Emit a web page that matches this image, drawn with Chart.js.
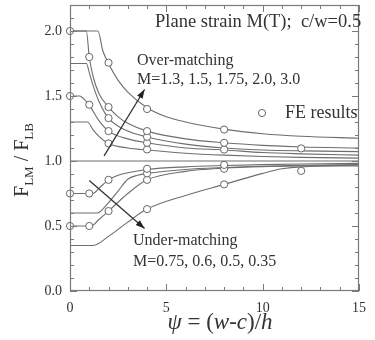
<!DOCTYPE html>
<html><head><meta charset="utf-8">
<script src="https://cdn.jsdelivr.net/npm/chart.js@4.4.1/dist/chart.umd.min.js"></script>
<style>html,body{margin:0;padding:0;background:#fff}#wrap{width:375px;height:340px;position:relative}</style>
</head><body><div id="wrap"><canvas id="c"></canvas></div>
<script>
// axis ticks
const xTicks = [0, 5, 10, 15];
const yTicks = [0.0, 0.5, 1.0, 1.5, 2.0];

// over-matching analytical curves (psi, F_LM/F_LB)
const psiM30 = [0, 1.45, 1.7, 2, 2.5, 3, 4, 5, 6, 8, 10, 12, 15];
const fM30   = [2.0, 2.0, 1.85, 1.75, 1.62, 1.53, 1.41, 1.34, 1.30, 1.245, 1.21, 1.19, 1.175];
const psiM20 = [0, 0.85, 1.0, 1.2, 1.5, 2, 2.5, 3, 4, 6, 8, 10, 12, 15];
const fM20   = [2.0, 2.0, 1.80, 1.65, 1.52, 1.415, 1.34, 1.29, 1.23, 1.17, 1.14, 1.12, 1.108, 1.10];
const psiM175 = [0, 0.85, 1, 1.2, 1.5, 2, 3, 4, 6, 8, 10, 12, 15];
const fM175   = [1.75, 1.75, 1.68, 1.58, 1.46, 1.33, 1.23, 1.185, 1.13, 1.10, 1.085, 1.078, 1.072];
const psiM15 = [0, 0.5, 0.7, 1, 1.5, 2, 3, 4, 6, 8, 10, 12, 15];
const fM15   = [1.5, 1.5, 1.48, 1.43, 1.31, 1.23, 1.17, 1.14, 1.10, 1.085, 1.065, 1.055, 1.045];
const psiM13 = [0, 0.9, 1.2, 1.5, 2, 3, 4, 6, 8, 10, 12, 15];
const fM13   = [1.3, 1.3, 1.24, 1.19, 1.135, 1.10, 1.085, 1.06, 1.045, 1.035, 1.028, 1.022];

// under-matching analytical curves
const psiM075 = [0, 1.2, 1.5, 2, 2.5, 3, 4, 6, 8, 10, 12, 15];
const fM075   = [0.75, 0.75, 0.79, 0.855, 0.89, 0.91, 0.935, 0.955, 0.965, 0.972, 0.977, 0.982];
const psiM06 = [0, 1.4, 2, 2.5, 3, 3.5, 4, 6, 8, 10, 12, 15];
const fM06   = [0.6, 0.6, 0.68, 0.77, 0.86, 0.89, 0.905, 0.935, 0.95, 0.96, 0.967, 0.973];
const psiM05 = [0, 1.1, 1.5, 2, 3, 4, 6, 8, 10, 12, 15];
const fM05   = [0.5, 0.5, 0.55, 0.615, 0.75, 0.855, 0.92, 0.945, 0.957, 0.963, 0.968];
const psiM035 = [0, 1.2, 2, 3, 4, 6, 8, 10, 11, 12, 15];
const fM035   = [0.35, 0.35, 0.42, 0.53, 0.63, 0.735, 0.82, 0.905, 0.94, 0.955, 0.962];

// reference line F_LM/F_LB = 1
const psiRef = [0, 15];
const fRef   = [1.0, 1.0];

// FE results
const fePsi30 = [0, 2, 4, 8];        const feF30 = [2.0, 1.756, 1.40, 1.242];
const fePsi20 = [1, 2, 4, 8, 12];    const feF20 = [1.80, 1.415, 1.23, 1.14, 1.097];
const fePsi175 = [2, 4];             const feF175 = [1.33, 1.186];
const fePsi15 = [0, 1, 2, 4, 8];     const feF15 = [1.5, 1.433, 1.23, 1.14, 1.088];
const fePsi13 = [2, 4];              const feF13 = [1.135, 1.089];
const fePsi075 = [0, 1, 2, 4, 8];    const feF075 = [0.75, 0.75, 0.855, 0.94, 0.97];
const fePsi06 = [4];                 const feF06 = [0.905];
const fePsi05 = [0, 1, 2, 4, 8];     const feF05 = [0.5, 0.5, 0.615, 0.855, 0.94];
const fePsi035 = [4, 8, 12];         const feF035 = [0.63, 0.82, 0.924];

// arrows (data units)
const arrowOver  = [[1.77, 1.04], [3.87, 1.55]];
const arrowUnder = [[1.0, 0.85], [3.87, 0.48]];

const pts = (p, f) => p.map((v, i) => ({x: v, y: f[i]}));
const LINE = '#6e6e6e', TXT = '#333', AX = '#7a7a7a';
const SERIF = '"Liberation Serif","DejaVu Serif",serif';

const lineSets = [[psiM30,fM30],[psiM20,fM20],[psiM175,fM175],[psiM15,fM15],[psiM13,fM13],
  [psiM075,fM075],[psiM06,fM06],[psiM05,fM05],[psiM035,fM035],[psiRef,fRef]];
const feSets = [[fePsi30,feF30],[fePsi20,feF20],[fePsi175,feF175],[fePsi15,feF15],[fePsi13,feF13],
  [fePsi075,feF075],[fePsi06,feF06],[fePsi05,feF05],[fePsi035,feF035]];

const datasets = [];
feSets.forEach(([p,f]) => datasets.push({data: pts(p,f), showLine:false, pointRadius:3.6,
  pointBackgroundColor:'#fff', pointBorderColor:'#666', pointBorderWidth:1, order:0, clip:false}));
lineSets.forEach(([p,f]) => datasets.push({data: pts(p,f), showLine:true, pointRadius:0,
  borderColor:LINE, borderWidth:1.1, cubicInterpolationMode:'monotone', order:1, fill:false}));

function arrow(ctx, x0, y0, x1, y1) {
  ctx.beginPath(); ctx.moveTo(x0, y0); ctx.lineTo(x1, y1); ctx.stroke();
  const a = Math.atan2(y1 - y0, x1 - x0), L = 9, W = 3.2;
  ctx.beginPath();
  ctx.moveTo(x1, y1);
  ctx.lineTo(x1 - L*Math.cos(a) + W*Math.sin(a), y1 - L*Math.sin(a) - W*Math.cos(a));
  ctx.lineTo(x1 - L*Math.cos(a) - W*Math.sin(a), y1 - L*Math.sin(a) + W*Math.cos(a));
  ctx.closePath(); ctx.fill();
}

function drawParts(ctx, parts, x, y) {
  parts.forEach(([t, font, dy]) => { ctx.font = font; ctx.fillText(t, x, y + (dy||0)); x += ctx.measureText(t).width; });
}
function partsWidth(ctx, parts) {
  let w = 0; parts.forEach(([t, font]) => { ctx.font = font; w += ctx.measureText(t).width; }); return w;
}

const decor = {
  id: 'decor',
  afterDraw(chart) {
    const {ctx, chartArea: a, scales: {x, y}} = chart;
    ctx.save();
    // frame
    ctx.strokeStyle = AX; ctx.lineWidth = 1.2;
    ctx.strokeRect(Math.round(a.left)+0.5, Math.round(a.top)+0.5, Math.round(a.width)-1, Math.round(a.height)-1);
    // inward ticks
    ctx.lineWidth = 1;
    ctx.beginPath();
    for (let i = 0; i <= 15; i++) {
      const px = Math.round(x.getPixelForValue(i)) + 0.5, L = (i % 5 === 0) ? 7 : 4;
      ctx.moveTo(px, a.bottom); ctx.lineTo(px, a.bottom - L);
      ctx.moveTo(px, a.top); ctx.lineTo(px, a.top + L);
    }
    for (let i = 0; i <= 22; i++) {
      const py = Math.round(y.getPixelForValue(i/10)) + 0.5, L = (i % 5 === 0) ? 7 : 4;
      ctx.moveTo(a.left, py); ctx.lineTo(a.left + L, py);
      ctx.moveTo(a.right, py); ctx.lineTo(a.right - L, py);
    }
    ctx.stroke();
    // arrows
    ctx.strokeStyle = '#333'; ctx.fillStyle = '#222'; ctx.lineWidth = 1.3;
    [arrowOver, arrowUnder].forEach(([p0, p1]) => arrow(ctx,
      x.getPixelForValue(p0[0]), y.getPixelForValue(p0[1]),
      x.getPixelForValue(p1[0]), y.getPixelForValue(p1[1])));
    // annotations
    ctx.fillStyle = TXT; ctx.textBaseline = 'middle'; ctx.textAlign = 'left';
    ctx.font = '18.5px ' + SERIF;
    ctx.fillText('Plane strain M(T);  c/w=0.5', 155, 22);
    ctx.font = '18px ' + SERIF;
    ctx.fillText('FE results', 285, 113);
    ctx.font = '16px ' + SERIF;
    ctx.fillText('Over-matching', 137, 61);
    ctx.fillText('M=1.3, 1.5, 1.75, 2.0, 3.0', 137, 80);
    ctx.fillText('Under-matching', 133, 241);
    ctx.fillText('M=0.75, 0.6, 0.5, 0.35', 133, 262);
    // legend circle
    ctx.beginPath(); ctx.arc(262, 113, 3.6, 0, Math.PI*2);
    ctx.fillStyle = '#fff'; ctx.fill(); ctx.strokeStyle = '#666'; ctx.lineWidth = 1; ctx.stroke();
    // x title
    ctx.fillStyle = TXT; ctx.textBaseline = 'alphabetic';
    const I = 'italic 23px ' + SERIF, N = '23px ' + SERIF;
    const xParts = [['\u03C8', I], [' = (', N], ['w', I], ['-', N], ['c', I], [')/', N], ['h', I]];
    const xw = partsWidth(ctx, xParts);
    drawParts(ctx, xParts, 220 - xw/2, 329);
    // y title (rotated)
    ctx.translate(28, 160); ctx.rotate(-Math.PI/2);
    const B = '20px ' + SERIF, S = '13px ' + SERIF;
    const yParts = [['F', B], ['LM', S, 5], [' / F', B], ['LB', S, 5]];
    const yw = partsWidth(ctx, yParts);
    drawParts(ctx, yParts, -yw/2, 0);
    ctx.restore();
  }
};

new Chart(document.getElementById('c'), {
  type: 'scatter',
  data: { datasets },
  options: {
    responsive: true, maintainAspectRatio: false, animation: false,
    layout: { padding: { top: 5, right: 8, left: 0, bottom: 0 } },
    plugins: { legend: { display: false }, tooltip: { enabled: false } },
    scales: {
      x: {
        type: 'linear', min: 0, max: 15,
        afterBuildTicks: s => { s.ticks = xTicks.map(v => ({value: v})); },
        afterFit: s => { s.height = 49; },
        grid: { display: false, drawTicks: false }, border: { display: false },
        ticks: { color: TXT, padding: 9, maxRotation: 0, font: { family: SERIF, size: 14 } }
      },
      y: {
        type: 'linear', min: 0, max: 2.2,
        afterBuildTicks: s => { s.ticks = yTicks.map(v => ({value: v})); },
        afterFit: s => { s.width = 70; s.paddingTop = 0; s.paddingBottom = 0; },
        grid: { display: false, drawTicks: false }, border: { display: false },
        ticks: { color: TXT, padding: 8, font: { family: SERIF, size: 14 }, callback: v => Number(v).toFixed(1) }
      }
    }
  },
  plugins: [decor]
});
</script>
</body></html>
